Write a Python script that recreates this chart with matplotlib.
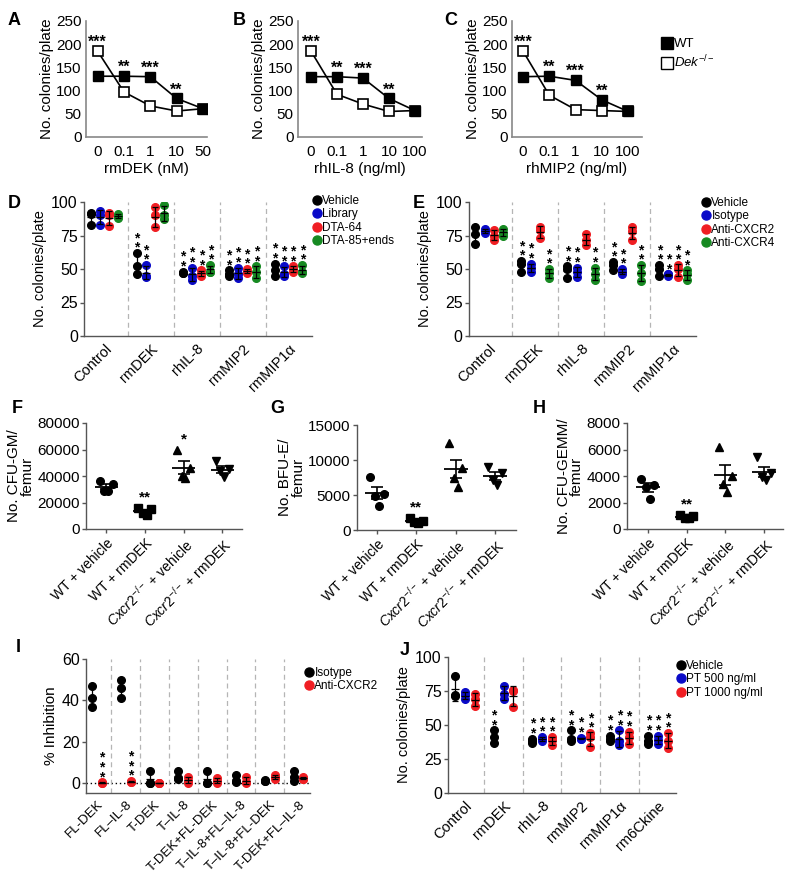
import numpy as np
import matplotlib.pyplot as plt
from matplotlib.lines import Line2D

plt.rcParams['font.family'] = ['Liberation Sans', 'DejaVu Sans']
plt.rcParams['mathtext.fontset'] = 'custom'
plt.rcParams['mathtext.rm'] = 'Liberation Sans'
plt.rcParams['mathtext.it'] = 'Liberation Sans:italic'

# ---------------- data ----------------
doses_A = ['0', '0.1', '1', '10', '50']
doses_BC = ['0', '0.1', '1', '10', '100']
wt_A = [131, 131, 130, 83, 61]
dek_A = [185, 97, 67, 56, 61]
wt_B = [130, 130, 127, 83, 57]
dek_B = [185, 92, 71, 55, 57]
wt_C = [130, 131, 122, 80, 55]
dek_C = [185, 90, 59, 57, 55]
stars_ABC = ['***', '**', '***', '**', '']

groups_DE = ['Control', 'rmDEK', 'rhIL-8', 'rmMIP2', 'rmMIP1α']
D_vehicle = [[92, 91, 83], [62, 52, 46], [48, 47, 47], [49, 46, 45], [54, 49, 45]]
D_library = [[93, 90, 83], [53, 45, 44], [51, 45, 42], [51, 46, 43], [52, 46, 45]]
D_dta64 = [[92, 90, 82], [96, 90, 81], [49, 46, 45], [50, 48, 47], [52, 50, 48]]
D_dta85 = [[91, 89, 88], [98, 90, 87], [53, 48, 48], [52, 48, 43], [53, 48, 47]]
D_sig = [['', '**', '**', '**', '**'], ['', '**', '**', '**', '**'],
         ['', '', '**', '**', '**'], ['', '', '**', '**', '**']]
D_labels = ['Vehicle', 'Library', 'DTA-64', 'DTA-85+ends']

E_vehicle = [[81, 76, 69], [56, 54, 48], [52, 50, 43], [55, 53, 49], [53, 50, 45]]
E_isotype = [[80, 78, 77], [54, 51, 48], [51, 48, 44], [50, 48, 46], [46, 46, 45]]
E_cxcr2 = [[79, 75, 72], [81, 79, 73], [76, 72, 68], [81, 78, 72], [53, 50, 44]]
E_cxcr4 = [[80, 77, 75], [50, 47, 43], [51, 46, 42], [53, 47, 41], [49, 46, 42]]
E_sig = [['', '**', '**', '**', '**'], ['', '**', '**', '**', '**'],
         ['', '', '', '', '**'], ['', '**', '**', '**', '**']]
E_labels = ['Vehicle', 'Isotype', 'Anti-CXCR2', 'Anti-CXCR4']

femur_groups = ['WT + vehicle', 'WT + rmDEK',
                r'$\mathit{Cxcr2}^{-/-}$ + vehicle', r'$\mathit{Cxcr2}^{-/-}$ + rmDEK']
F_vals = [[36500, 34000, 29000, 28500], [16000, 15000, 12000, 10500],
          [60000, 46000, 40000, 38500], [51000, 45500, 44000, 39000]]
F_sig = ['', '**', '*', '']
G_vals = [[7600, 5100, 4900, 3500], [1700, 1300, 1100, 1000],
          [12400, 8800, 7500, 6200], [9000, 8200, 7200, 6400]]
G_sig = ['', '**', '', '']
H_vals = [[3800, 3300, 3200, 2250], [1050, 950, 850, 850],
          [6200, 4000, 3400, 2800], [5400, 4200, 3900, 3700]]
H_sig = ['', '**', '', '']

I_groups = ['FL-DEK', 'FL–IL-8', 'T-DEK', 'T–IL-8', 'T-DEK+FL-DEK',
            'T–IL-8+FL–IL-8', 'T–IL-8+FL-DEK', 'T-DEK+FL–IL-8']
I_isotype = [[47, 41, 37], [50, 46, 41], [6, 0, 0], [6, 2.5, 2], [6, 0, 0],
             [4, 1, 0.5], [1.5, 1, 1], [6, 3, 1]]
I_cxcr2 = [[0.3, 0, 0], [1, 0.5, 0.5], [0, 0, 0], [3, 1, 0], [2.5, 1, 0],
           [3, 0.5, 0], [4, 3, 2], [3, 2, 2]]
I_sig = [[''] * 8, ['***', '***', '', '', '', '', '', '']]
I_labels = ['Isotype', 'Anti-CXCR2']

J_groups = ['Control', 'rmDEK', 'rhIL-8', 'rmMIP2', 'rmMIP1α', 'rm6Ckine']
J_vehicle = [[86, 72, 71], [46, 41, 37], [40, 38, 37], [46, 40, 38], [42, 40, 38], [42, 38, 36]]
J_pt500 = [[74, 72, 69], [79, 73, 69], [41, 40, 38], [40.5, 40, 40], [46, 38, 35], [42, 39, 36]]
J_pt1000 = [[73, 69, 64], [76, 75, 63], [41, 39, 35], [44, 41, 34], [45, 41, 36], [44, 38, 33]]
J_sig = [['', '**', '**', '**', '**', '**'], ['', '', '**', '**', '**', '**'],
         ['', '', '**', '**', '**', '**']]
J_labels = ['Vehicle', 'PT 500 ng/ml', 'PT 1000 ng/ml']

BLACK, BLUE, RED, GREEN = '#000000', '#0a0ac8', '#f01e23', '#178a22'

# ---------------- layout helpers (pixel coords) ----------------
W, H = 794, 875
fig = plt.figure(figsize=(W / 100, H / 100), dpi=100)


def add_ax(x0, ytop, x1, ybot):
    ax = fig.add_axes([x0 / W, 1 - ybot / H, (x1 - x0) / W, (ybot - ytop) / H])
    for s in ['top', 'right']:
        ax.spines[s].set_visible(False)
    for s in ['left', 'bottom']:
        ax.spines[s].set_color('#555555')
        ax.spines[s].set_linewidth(1.0)
    ax.tick_params(axis='y', length=3, width=1, color='#555555', pad=1.5, labelsize=11.5)
    ax.tick_params(axis='x', length=0, pad=4, labelsize=10.5)
    return ax


def panel_label(s, x, y):
    fig.text(x / W, 1 - y / H, s, fontsize=13, fontweight='bold', va='baseline')


def legend(ax, labels, colors, x, y, fs=8.5, ms=6.5, spacing=0.12):
    hs = [Line2D([], [], ls='none', marker='o', color=c, ms=ms) for c in colors]
    ax.legend(hs, labels, loc='upper left', bbox_to_anchor=(x / W, 1 - y / H),
              bbox_transform=fig.transFigure, frameon=False, borderpad=0,
              borderaxespad=0, handlelength=0.7, handletextpad=0.1,
              labelspacing=spacing, fontsize=fs)


def stacked_stars(ax, x, y, s, fs=10):
    ax.text(x, y, '\n'.join(s), ha='center', va='baseline', fontsize=fs,
            linespacing=0.6, fontweight='bold')


# ---------------- A, B, C ----------------
def dose_panel(ax, doses, wt, dek, stars, xlabel, xlim):
    x = np.arange(len(doses))
    ax.plot(x, dek, '-s', color='k', mfc='white', mec='k', ms=7.5, mew=1.2, lw=1.2, zorder=3)
    ax.plot(x, wt, '-s', color='k', mfc='k', ms=7.5, lw=1.2, zorder=4)
    for i, s in enumerate(stars):
        if s:
            ax.text(i, max(wt[i], dek[i]) + 9, s, ha='center', va='baseline',
                    fontsize=11.5, fontweight='bold')
    ax.set_ylim(0, 250)
    ax.set_yticks([0, 50, 100, 150, 200, 250])
    ax.set_xlim(*xlim)
    ax.set_xticks(x)
    ax.set_xticklabels(doses)
    ax.tick_params(axis='x', labelsize=11, pad=6)
    ax.tick_params(axis='y', labelsize=11, length=0, pad=3)
    ax.set_xlabel(xlabel, fontsize=11, labelpad=2)
    ax.set_ylabel('No. colonies/plate', fontsize=11, labelpad=2)
    for s in ['left', 'bottom']:
        ax.spines[s].set_color('#888888')
        ax.spines[s].set_linewidth(1.2)


axA = add_ax(86, 21, 207, 137)
dose_panel(axA, doses_A, wt_A, dek_A, stars_ABC, 'rmDEK (nM)', (-0.44, 4.15))
axB = add_ax(298, 21, 422, 137)
dose_panel(axB, doses_BC, wt_B, dek_B, stars_ABC, 'rhIL-8 (ng/ml)', (-0.5, 4.27))
axC = add_ax(512, 21, 642, 137)
dose_panel(axC, doses_BC, wt_C, dek_C, stars_ABC, 'rhMIP2 (ng/ml)', (-0.42, 4.53))
sq = [Line2D([], [], ls='none', marker='s', color='k', mfc='k', ms=8),
      Line2D([], [], ls='none', marker='s', color='k', mfc='white', mew=1.0, ms=8)]
axC.legend(sq, ['WT', r'$\mathit{Dek}^{-/-}$'], loc='upper left',
           bbox_to_anchor=(662 / W, 1 - 38 / H), bbox_transform=fig.transFigure,
           frameon=False, borderpad=0, borderaxespad=0, handlelength=0.7,
           handletextpad=0.2, labelspacing=0.25, fontsize=9.5)
panel_label('A', 8, 25)
panel_label('B', 233, 25)
panel_label('C', 444, 25)


# ---------------- dot-plot panels ----------------
def dot_panel(ax, series, sigs, colors, offsets, groups, ylim, yticks, ms=5.5):
    for vals, sig, c, off in zip(series, sigs, colors, offsets):
        for i, v in enumerate(vals):
            v = np.array(v, dtype=float)
            ax.plot(np.full(len(v), i + off), v, 'o', color=c, ms=ms, zorder=3)
            ax.errorbar(i + off, v.mean(), yerr=v.std(ddof=1), fmt='_', color='k',
                        ms=6, mew=0.9, capsize=2, elinewidth=0.9, capthick=0.9, zorder=4)
            if sig[i]:
                stacked_stars(ax, i + off, v.max() + 1.0 * (ylim[1] - ylim[0]) / 100, sig[i])
    for k in range(len(groups) - 1):
        ax.axvline(k + 0.5, color='#b5b5b5', lw=0.9, ls=(0, (4, 3)), zorder=1)
    ax.set_ylim(*ylim)
    ax.set_yticks(yticks)
    ax.set_xticks(range(len(groups)))
    ax.set_xticklabels(groups, rotation=45, ha='right', rotation_mode='anchor')


axD = add_ax(84, 202, 312, 336)
dot_panel(axD, [D_vehicle, D_library, D_dta64, D_dta85], D_sig,
          [BLACK, BLUE, RED, GREEN], [-0.3, -0.1, 0.1, 0.3], groups_DE,
          (0, 100), [0, 25, 50, 75, 100])
axD.set_xlim(-0.45, 4.51)
axD.set_ylabel('No. colonies/plate', fontsize=10.5, labelpad=3)
legend(axD, D_labels, [BLACK, BLUE, RED, GREEN], 313, 195)
panel_label('D', 8, 208)

axE = add_ax(469, 202, 696, 336)
dot_panel(axE, [E_vehicle, E_isotype, E_cxcr2, E_cxcr4], E_sig,
          [BLACK, BLUE, RED, GREEN], [-0.3, -0.1, 0.1, 0.3], groups_DE,
          (0, 100), [0, 25, 50, 75, 100])
axE.set_xlim(-0.44, 4.5)
axE.set_ylabel('No. colonies/plate', fontsize=10.5, labelpad=3)
legend(axE, E_labels, [BLACK, BLUE, RED, GREEN], 702, 197)
panel_label('E', 413, 208)


# ---------------- F, G, H ----------------
def femur_panel(ax, vals, sig, ylim, yticks, ylabel, xlim):
    markers = ['o', 's', '^', 'v']
    spread = [-0.17, 0.17, -0.05, 0.05]
    for i, v in enumerate(vals):
        v = np.array(v, dtype=float)
        order = np.argsort(-v)
        xs = np.empty(len(v))
        xs[order] = [i + spread[k] for k in range(len(v))]
        ax.plot(xs, v, markers[i], color='k', ms=5.5, zorder=3)
        m, sem = v.mean(), v.std(ddof=1) / np.sqrt(len(v))
        ax.hlines(m, i - 0.3, i + 0.3, color='k', lw=1.3, zorder=4)
        ax.errorbar(i, m, yerr=sem, fmt='none', ecolor='k', elinewidth=1.2,
                    capsize=4, capthick=1.2, zorder=4)
        if sig[i]:
            ax.text(i, v.max() + 0.06 * ylim[1], sig[i], ha='center', va='baseline',
                    fontsize=11, fontweight='bold')
    ax.set_ylim(*ylim)
    ax.set_yticks(yticks)
    ax.set_xlim(*xlim)
    ax.set_xticks(range(4))
    ax.set_xticklabels(femur_groups, rotation=45, ha='right', rotation_mode='anchor')
    ax.tick_params(axis='x', length=3, width=1, color='#555555', labelsize=10, pad=2)
    ax.tick_params(axis='y', labelsize=11)
    ax.set_ylabel(ylabel, fontsize=11, labelpad=2, linespacing=0.95)


axF = add_ax(86, 423, 242, 529)
femur_panel(axF, F_vals, F_sig, (0, 80000), [0, 20000, 40000, 60000, 80000],
            'No. CFU-GM/\nfemur', (-0.52, 3.51))
panel_label('F', 12, 413)
axG = add_ax(357, 425, 516, 530)
femur_panel(axG, G_vals, G_sig, (0, 15000), [0, 5000, 10000, 15000],
            'No. BFU-E/\nfemur', (-0.51, 3.53))
panel_label('G', 270, 413)
axH = add_ax(627, 423, 783, 529)
femur_panel(axH, H_vals, H_sig, (0, 8000), [0, 2000, 4000, 6000, 8000],
            'No. CFU-GEMM/\nfemur', (-0.54, 3.49))
panel_label('H', 533, 413)

# ---------------- I ----------------
axI = add_ax(86, 659, 310, 793)
axI.axhline(0, color='k', lw=1.0, ls=(0, (1, 2)), zorder=1)
dot_panel(axI, [I_isotype, I_cxcr2], I_sig, [BLACK, RED], [-0.17, 0.17], I_groups,
          (-4.84, 60), [0, 20, 40, 60])
axI.set_xlim(-0.38, 7.4)
axI.tick_params(axis='x', labelsize=9.5)
axI.set_ylabel('% Inhibition', fontsize=11, labelpad=3)
legend(axI, I_labels, [BLACK, RED], 305, 667)
panel_label('I', 16, 652)

# ---------------- J ----------------
axJ = add_ax(448, 657, 676, 793)
dot_panel(axJ, [J_vehicle, J_pt500, J_pt1000], J_sig, [BLACK, BLUE, RED],
          [-0.25, 0, 0.25], J_groups, (0, 100), [0, 25, 50, 75, 100])
axJ.set_xlim(-0.44, 5.47)
axJ.set_ylabel('No. colonies/plate', fontsize=10.5, labelpad=3)
legend(axJ, J_labels, [BLACK, BLUE, RED], 677, 660)
panel_label('J', 400, 655)

fig.savefig('out.png', dpi=100)
